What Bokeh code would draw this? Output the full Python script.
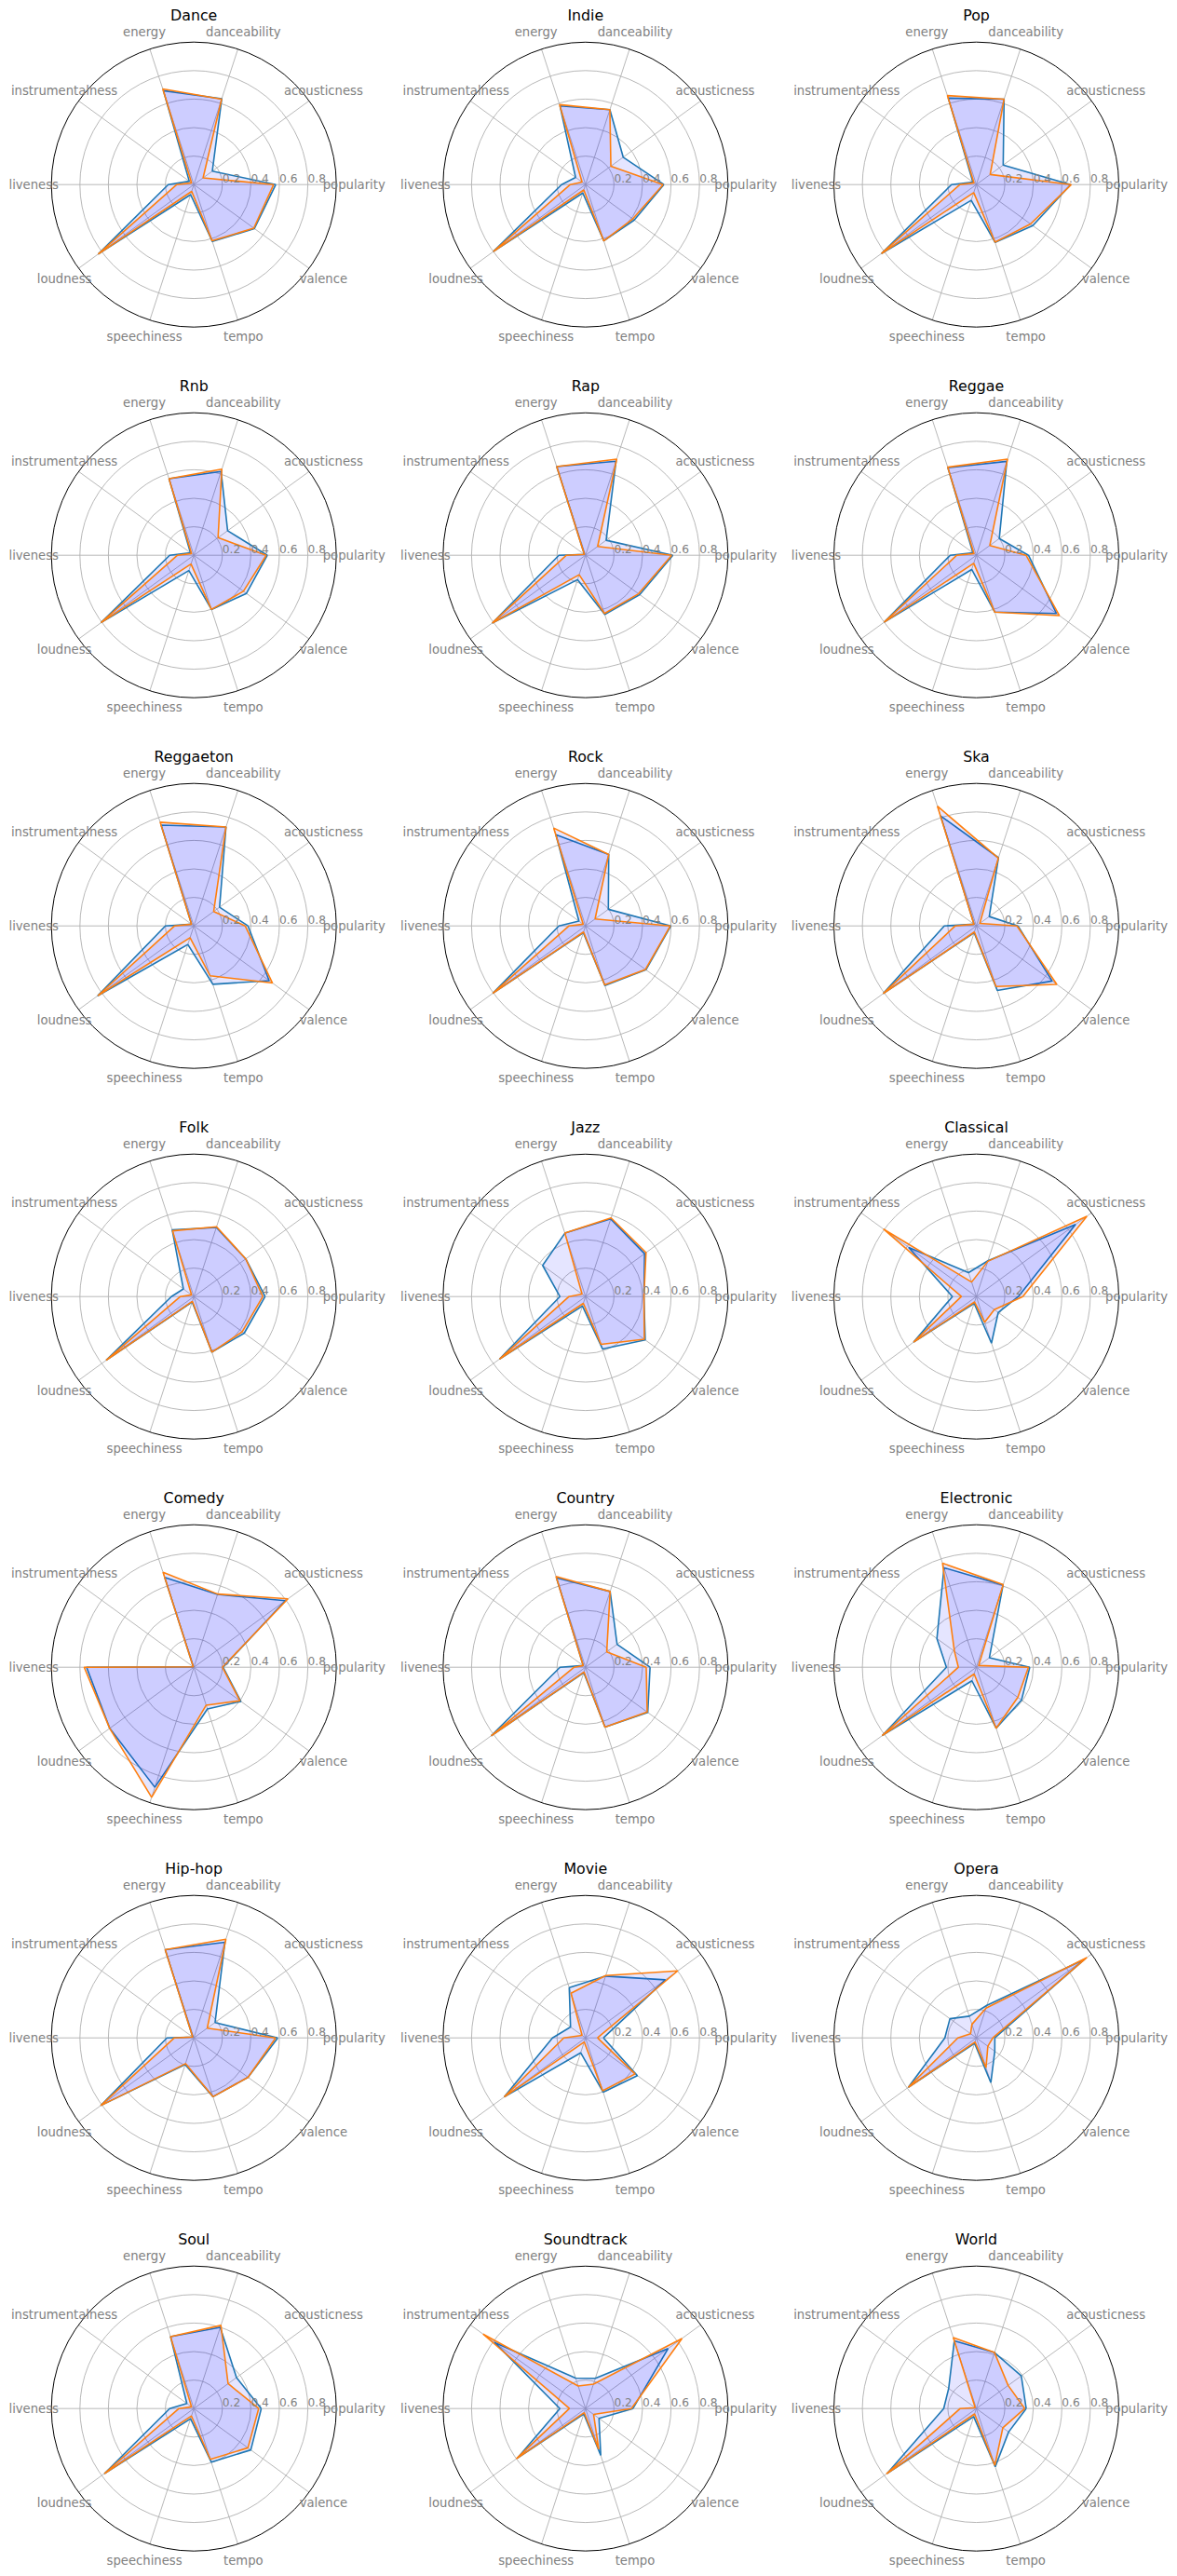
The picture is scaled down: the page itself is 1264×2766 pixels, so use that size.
import math
from bokeh.plotting import figure
from bokeh.layouts import gridplot
from bokeh.models import Range1d, ColumnDataSource
from bokeh.core.properties import value
from bokeh.embed import file_html
from bokeh.resources import INLINE

FEATURES = ["popularity", "acousticness", "danceability", "energy", "instrumentalness",
            "liveness", "loudness", "speechiness", "tempo", "valence"]
GENRES = ["Dance", "Indie", "Pop", "Rnb", "Rap", "Reggae", "Reggaeton", "Rock", "Ska",
          "Folk", "Jazz", "Classical", "Comedy", "Country", "Electronic",
          "Hip-hop", "Movie", "Opera", "Soul", "Soundtrack", "World"]
R_TICKS = [0.2, 0.4, 0.6, 0.8]
R_TICK_LABELS = ["0.2", "0.4", "0.6", "0.8"]

# series A (blue) and series B (orange), values per feature
dance_a = [0.575, 0.16, 0.634, 0.693, 0.04, 0.18, 0.83, 0.074, 0.42, 0.525]
dance_b = [0.56, 0.08, 0.63, 0.706, 0.02, 0.12, 0.83, 0.05, 0.415, 0.52]
indie_a = [0.55, 0.327, 0.553, 0.58, 0.086, 0.168, 0.80, 0.062, 0.415, 0.423]
indie_b = [0.545, 0.22, 0.553, 0.59, 0.03, 0.107, 0.80, 0.04, 0.415, 0.41]
pop_a = [0.662, 0.233, 0.63, 0.638, 0.03, 0.174, 0.823, 0.116, 0.427, 0.49]
pop_b = [0.667, 0.12, 0.63, 0.657, 0.02, 0.115, 0.823, 0.06, 0.425, 0.47]
rnb_a = [0.516, 0.293, 0.618, 0.565, 0.03, 0.17, 0.806, 0.113, 0.40, 0.456]
rnb_b = [0.508, 0.21, 0.635, 0.565, 0.02, 0.115, 0.806, 0.065, 0.40, 0.43]
rap_a = [0.613, 0.179, 0.694, 0.654, 0.01, 0.187, 0.809, 0.18, 0.437, 0.47]
rap_b = [0.605, 0.105, 0.709, 0.654, 0.01, 0.134, 0.809, 0.144, 0.43, 0.46]
reggae_a = [0.366, 0.199, 0.693, 0.646, 0.03, 0.183, 0.80, 0.105, 0.42, 0.695]
reggae_b = [0.349, 0.117, 0.709, 0.65, 0.02, 0.137, 0.80, 0.06, 0.42, 0.72]
reggaeton_a = [0.38, 0.223, 0.73, 0.744, 0.02, 0.20, 0.835, 0.137, 0.431, 0.653]
reggaeton_b = [0.36, 0.172, 0.73, 0.765, 0.02, 0.135, 0.832, 0.087, 0.368, 0.682]
rock_a = [0.599, 0.198, 0.527, 0.673, 0.057, 0.187, 0.805, 0.05, 0.44, 0.524]
rock_b = [0.595, 0.083, 0.527, 0.722, 0.02, 0.116, 0.805, 0.045, 0.435, 0.52]
ska_a = [0.292, 0.112, 0.503, 0.812, 0.02, 0.225, 0.808, 0.05, 0.476, 0.658]
ska_b = [0.285, 0.03, 0.50, 0.883, 0.02, 0.148, 0.808, 0.045, 0.447, 0.698]
folk_a = [0.50, 0.45, 0.51, 0.492, 0.091, 0.158, 0.761, 0.04, 0.41, 0.437]
folk_b = [0.484, 0.45, 0.515, 0.485, 0.02, 0.095, 0.761, 0.035, 0.41, 0.42]
jazz_a = [0.41, 0.512, 0.573, 0.468, 0.372, 0.18, 0.746, 0.07, 0.387, 0.518]
jazz_b = [0.41, 0.525, 0.58, 0.468, 0.03, 0.116, 0.746, 0.05, 0.353, 0.51]
classical_a = [0.295, 0.861, 0.264, 0.177, 0.587, 0.168, 0.544, 0.05, 0.344, 0.19]
classical_b = [0.326, 0.959, 0.26, 0.107, 0.806, 0.105, 0.544, 0.04, 0.19, 0.156]
comedy_a = [0.205, 0.794, 0.537, 0.663, 0.005, 0.753, 0.73, 0.886, 0.308, 0.408]
comedy_b = [0.20, 0.816, 0.54, 0.70, 0.005, 0.77, 0.73, 0.96, 0.28, 0.40]
country_a = [0.453, 0.274, 0.559, 0.66, 0.02, 0.179, 0.818, 0.04, 0.442, 0.54]
country_b = [0.426, 0.184, 0.559, 0.67, 0.02, 0.08, 0.818, 0.035, 0.442, 0.535]
electronic_a = [0.375, 0.113, 0.607, 0.734, 0.342, 0.21, 0.817, 0.10, 0.45, 0.392]
electronic_b = [0.366, 0.02, 0.61, 0.768, 0.19, 0.126, 0.817, 0.05, 0.45, 0.36]
hiphop_a = [0.589, 0.184, 0.706, 0.651, 0.01, 0.189, 0.808, 0.197, 0.434, 0.47]
hiphop_b = [0.574, 0.116, 0.728, 0.651, 0.01, 0.137, 0.808, 0.19, 0.434, 0.47]
movie_a = [0.126, 0.693, 0.456, 0.37, 0.13, 0.232, 0.705, 0.11, 0.40, 0.45]
movie_b = [0.084, 0.80, 0.46, 0.33, 0.03, 0.153, 0.705, 0.03, 0.39, 0.43]
opera_a = [0.13, 0.94, 0.24, 0.16, 0.229, 0.221, 0.59, 0.04, 0.33, 0.16]
opera_b = [0.116, 0.959, 0.22, 0.10, 0.05, 0.13, 0.59, 0.03, 0.22, 0.10]
soul_a = [0.473, 0.37, 0.599, 0.53, 0.061, 0.17, 0.776, 0.075, 0.395, 0.494]
soul_b = [0.455, 0.297, 0.614, 0.53, 0.02, 0.105, 0.776, 0.055, 0.375, 0.469]
soundtrack_a = [0.333, 0.716, 0.223, 0.225, 0.79, 0.18, 0.59, 0.04, 0.346, 0.117]
soundtrack_b = [0.322, 0.837, 0.18, 0.166, 0.889, 0.113, 0.60, 0.03, 0.30, 0.07]
world_a = [0.35, 0.39, 0.413, 0.50, 0.24, 0.229, 0.773, 0.06, 0.43, 0.28]
world_b = [0.34, 0.276, 0.413, 0.523, 0.01, 0.113, 0.78, 0.04, 0.42, 0.23]

SERIES = [
    (dance_a, dance_b), (indie_a, indie_b), (pop_a, pop_b),
    (rnb_a, rnb_b), (rap_a, rap_b), (reggae_a, reggae_b),
    (reggaeton_a, reggaeton_b), (rock_a, rock_b), (ska_a, ska_b),
    (folk_a, folk_b), (jazz_a, jazz_b), (classical_a, classical_b),
    (comedy_a, comedy_b), (country_a, country_b), (electronic_a, electronic_b),
    (hiphop_a, hiphop_b), (movie_a, movie_b), (opera_a, opera_b),
    (soul_a, soul_b), (soundtrack_a, soundtrack_b), (world_a, world_b),
]

BLUE = "#1f77b4"
ORANGE = "#ff7f0e"
GRID = "#b0b0b0"
FONT = "DejaVu Sans"

R = 153.0            # pixels per unit radius
COL_W = [421, 421, 422]
COL_CX = [207.7, 207.3, 206.0]
ROW_H = [398, 398, 398, 398, 398, 398, 378]
CY = 197.7

n = len(FEATURES)
angles = [2 * math.pi * i / n for i in range(n)]


def polar(vals):
    xs = [v * math.cos(a) for v, a in zip(vals, angles)]
    ys = [v * math.sin(a) for v, a in zip(vals, angles)]
    return xs + xs[:1], ys + ys[:1]


def make_panel(genre, sa, sb, w, cx, h):
    p = figure(width=w, height=h, output_backend="svg", toolbar_location=None,
               x_range=Range1d(-cx / R, (w - cx) / R),
               y_range=Range1d(-(h - CY) / R, CY / R),
               x_axis_type=None, y_axis_type=None, min_border=0,
               outline_line_color=None, background_fill_color="white",
               border_fill_color="white")
    p.grid.visible = False
    # grid circles
    p.circle(x=[0] * len(R_TICKS), y=[0] * len(R_TICKS), radius=R_TICKS,
             fill_color=None, line_color=GRID, line_width=0.9)
    # spokes
    p.segment(x0=[0] * n, y0=[0] * n,
              x1=[math.cos(a) for a in angles], y1=[math.sin(a) for a in angles],
              line_color=GRID, line_width=0.9)
    # outer circle
    p.circle(x=[0], y=[0], radius=[1.0], fill_color=None, line_color="black", line_width=1.0)
    # data
    for vals, col in ((sa, BLUE), (sb, ORANGE)):
        xs, ys = polar(vals)
        p.patch(xs, ys, fill_color="blue", fill_alpha=0.1, line_color=None)
        p.line(xs, ys, line_color=col, line_width=1.6)
    # radial tick labels
    p.text(x=R_TICKS, y=[7.0 / R] * len(R_TICKS), text=R_TICK_LABELS,
           text_font=value(FONT), text_font_size=value("12.2px"), text_color="#808080",
           text_align="left", text_baseline="middle")
    # feature labels
    lr = 172.0 / R
    p.text(x=[lr * math.cos(a) for a in angles], y=[lr * math.sin(a) for a in angles],
           text=FEATURES, text_font=value(FONT), text_font_size=value("13.2px"),
           text_color="#808080", text_align="center", text_baseline="middle")
    # title
    p.text(x=[0], y=[181.7 / R], text=[genre], text_font=value(FONT),
           text_font_size=value("15.8px"), text_color="black",
           text_align="center", text_baseline="middle")
    return p


rows = []
for r in range(7):
    row = []
    for c in range(3):
        k = r * 3 + c
        sa, sb = SERIES[k]
        row.append(make_panel(GENRES[k], sa, sb, COL_W[c], COL_CX[c], ROW_H[r]))
    rows.append(row)

grid = gridplot(rows, toolbar_location=None)
open("out.html", "w").write(file_html(grid, INLINE))
